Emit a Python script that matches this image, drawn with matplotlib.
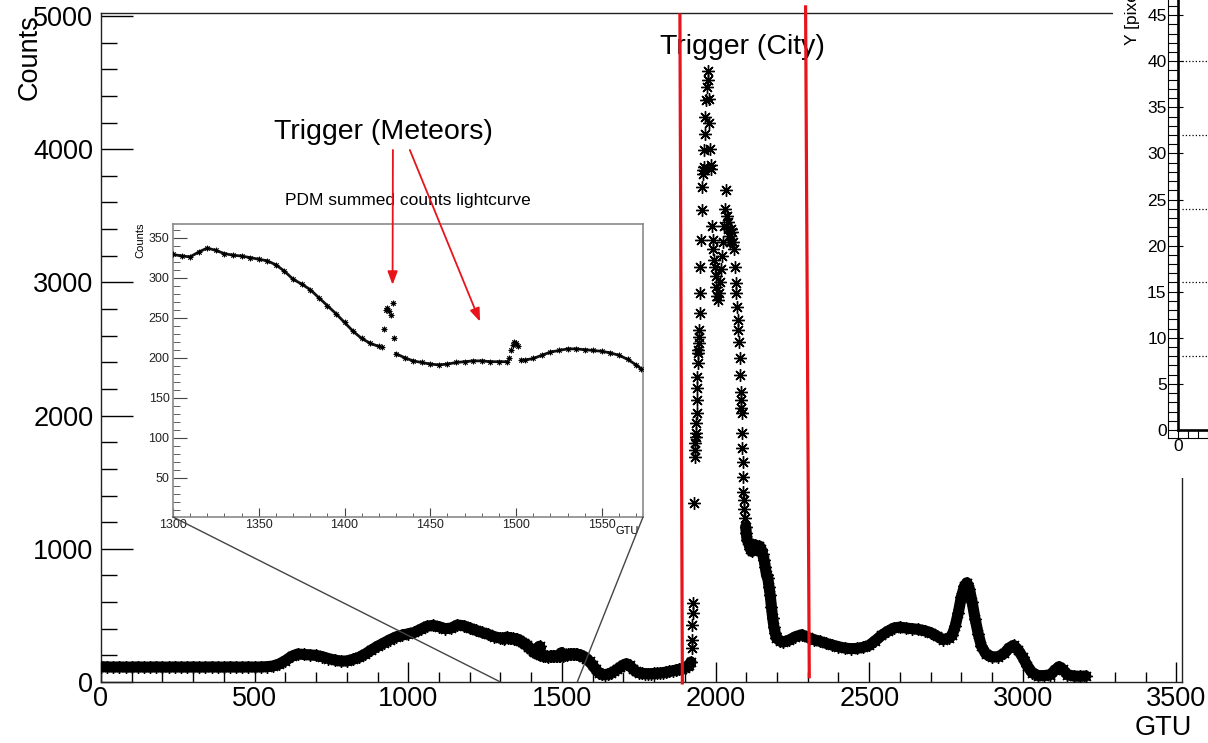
import numpy as np
import matplotlib
matplotlib.use("Agg")
import matplotlib.pyplot as plt
from matplotlib.patches import ConnectionPatch, Rectangle
from matplotlib.ticker import MultipleLocator, FixedLocator

plt.rcParams['font.family'] = ['Liberation Sans', 'DejaVu Sans']

# ---------------- data ----------------
# smooth part 0..1280 GTU, sampled every 20 GTU
seg_a_gtu = np.arange(0, 1281, 20)
seg_a_counts = [115, 113, 112, 113, 112, 112, 113, 112, 112, 113,
                112, 112, 113, 112, 112, 113, 112, 112, 113, 112,
                112, 113, 112, 112, 113, 112, 113, 115, 120, 135,
                160, 192, 210, 207, 203, 200, 190, 176, 165, 157,
                158, 170, 186, 210, 240, 268, 292, 317, 338, 352,
                362, 372, 395, 418, 425, 415, 400, 405, 428, 422,
                405, 388, 372, 358, 340]

# zoomed lightcurve (inset), 1300..1573 GTU
inset_gtu_1 = [1300, 1305, 1310, 1315, 1320, 1325, 1330, 1335, 1340, 1345,
               1350, 1355, 1360, 1365, 1370, 1375, 1380, 1385, 1390, 1395,
               1400, 1405, 1410, 1415, 1420, 1422]
inset_counts_1 = [329, 327, 326, 332, 337, 334, 330, 328, 327, 325,
                  323, 321, 316, 308, 298, 292, 285, 275, 265, 255,
                  244, 233, 224, 218, 214, 213]
meteor1_gtu = [1423, 1424, 1425, 1426, 1427, 1428, 1429]
meteor1_counts = [236, 260, 262, 258, 253, 268, 224]
inset_gtu_2 = [1430, 1435, 1440, 1445, 1450, 1455, 1460, 1465, 1470, 1475,
               1480, 1485, 1490, 1495]
inset_counts_2 = [205, 200, 196, 194, 192, 191, 192, 194, 195, 196,
                  196, 195, 195, 195]
meteor2_gtu = [1496, 1497, 1498, 1499, 1500, 1501]
meteor2_counts = [199, 209, 216, 220, 218, 215]
inset_gtu_3 = [1503, 1505, 1510, 1515, 1520, 1525, 1530, 1535, 1540, 1545,
               1550, 1555, 1560, 1565, 1570, 1573]
inset_counts_3 = [197, 197, 199, 203, 207, 209, 211, 211, 210, 209,
                  208, 206, 203, 198, 191, 186]

# 1580..1920 GTU
seg_b_gtu = [1580, 1590, 1600, 1610, 1620, 1630, 1640, 1650, 1660, 1670,
             1680, 1690, 1700, 1710, 1720, 1730, 1740, 1750, 1760, 1770,
             1780, 1790, 1800, 1810, 1820, 1830, 1840, 1850, 1860, 1870,
             1880, 1890, 1900, 1910, 1915, 1920]
seg_b_counts = [175, 155, 125, 95, 70, 58, 55, 60, 68, 80,
                95, 112, 128, 137, 125, 100, 80, 70, 65, 63,
                62, 62, 64, 66, 68, 71, 75, 79, 84, 89,
                94, 100, 107, 118, 128, 150]

# city: steep part (isolated points)
city_gtu = [1922, 1923, 1924, 1925, 1926, 1929, 1932, 1933, 1934, 1935,
            1936, 1937, 1938, 1939, 1940, 1941, 1942, 1943, 1944, 1945,
            1946, 1947, 1948, 1950, 1951, 1953, 1955, 1957, 1959, 1960,
            1961, 1963, 1965, 1967, 1969, 1971, 1974, 1976, 1978, 1980,
            1982, 1984, 1986, 1989, 1991, 1993, 1995, 1997, 2000, 2003,
            2006, 2009, 2012, 2015, 2018, 2021, 2024, 2027, 2030, 2033,
            2036, 2039, 2042, 2045, 2048, 2051, 2054, 2057, 2061, 2064,
            2066, 2068, 2070, 2072, 2074, 2076, 2078, 2080, 2082, 2083,
            2084, 2085, 2086, 2087, 2088, 2089, 2090, 2092, 2094, 2096]
city_counts = [253, 315, 428, 516, 591, 1342, 1692, 1742, 1792, 1842,
               1867, 1942, 2017, 2117, 2205, 2292, 2393, 2468, 2492, 2543,
               2593, 2643, 2768, 2918, 3118, 3318, 3544, 3718, 3815, 3840,
               3867, 3992, 4117, 4243, 4368, 4467, 4587, 4520, 4380, 4200,
               4000, 3880, 3850, 3420, 3318, 3250, 3170, 3118, 3050, 2968,
               2900, 2868, 2920, 3000, 3100, 3200, 3300, 3420, 3550, 3694,
               3500, 3450, 3400, 3350, 3300, 3400, 3380, 3300, 3250, 3118,
               2993, 2918, 2818, 2718, 2643, 2555, 2430, 2305, 2180, 2117,
               2060, 2017, 1867, 1755, 1654, 1541, 1429, 1366, 1300, 1230]

# plateau and tail 2098..3205 GTU
seg_c_gtu = [2098, 2100, 2103, 2108, 2113, 2118, 2123, 2128, 2133, 2138,
             2143, 2148, 2153, 2158, 2162, 2166, 2170, 2174, 2178, 2182,
             2186, 2190, 2194, 2198, 2210, 2220, 2240, 2260, 2280, 2300,
             2320, 2340, 2360, 2380, 2400, 2420, 2440, 2460, 2480, 2500,
             2520, 2540, 2560, 2580, 2600, 2620, 2640, 2660, 2680, 2700,
             2720, 2740, 2760, 2770, 2780, 2790, 2800, 2810, 2818, 2826,
             2835, 2845, 2855, 2865, 2880, 2900, 2920, 2940, 2955, 2970,
             2985, 3000, 3015, 3030, 3050, 3070, 3090, 3105, 3118, 3130,
             3145, 3165, 3185, 3205]
seg_c_counts = [1166, 1116, 1066, 1040, 1000, 980, 1010, 1030, 1000, 990,
                1020, 1000, 960, 916, 860, 800, 780, 716, 650, 560,
                480, 413, 370, 330, 310, 300, 315, 340, 355, 335,
                318, 305, 290, 277, 265, 255, 250, 252, 260, 275,
                310, 350, 380, 405, 412, 405, 400, 395, 385, 370,
                345, 318, 330, 350, 420, 520, 640, 720, 745, 700,
                600, 470, 360, 270, 210, 188, 190, 215, 255, 275,
                240, 185, 120, 70, 48, 48, 55, 90, 115, 95,
                55, 45, 43, 45]

# annotation positions (data units)
zoom_range = [1300, 1550]
city_line_x_top = [1884, 2293]
city_line_x_bot = [1892, 2305]
city_line_y_top = [5007, 5068]
city_line_y_bot = [-7, 40]
pix_grid_rows = [8, 16, 24, 32, 40]

# ---------------- figure ----------------
W, H = 1208, 743
fig = plt.figure(figsize=(W / 100, H / 100), dpi=100)
fig.patch.set_facecolor('white')


def fx(px):
    return px / W


def fy(py):
    return 1 - py / H


PT = 0.72  # points per pixel
star = (8, 2, 0)

ax = fig.add_axes([fx(101), fy(682), (1182 - 101) / W, (682 - 13) / H])
ax.set_xlim(0, 3518)
ax.set_ylim(0, 5022)

line1_g = np.concatenate([seg_a_gtu, inset_gtu_1, meteor1_gtu, inset_gtu_2,
                          meteor2_gtu, inset_gtu_3, seg_b_gtu])
line1_c = np.concatenate([seg_a_counts, inset_counts_1, meteor1_counts,
                          inset_counts_2, meteor2_counts, inset_counts_3,
                          seg_b_counts])
MS, MEW = 9, 1.0
ax.plot(line1_g, line1_c, '-', color='black', lw=8, solid_capstyle='round',
        solid_joinstyle='round', zorder=2)
ax.plot(line1_g, line1_c, ls='none', marker=star, ms=MS, mew=MEW,
        color='black', zorder=3)
ax.plot(seg_c_gtu, seg_c_counts, '-', color='black', lw=8,
        solid_capstyle='round', solid_joinstyle='round', zorder=2)
ax.plot(seg_c_gtu, seg_c_counts, ls='none', marker=star, ms=MS, mew=MEW,
        color='black', zorder=3)
ax.plot(city_gtu, city_counts, ls='none', marker=star, ms=MS, mew=MEW,
        color='black', zorder=3)

ax.xaxis.set_major_locator(MultipleLocator(500))
ax.xaxis.set_minor_locator(MultipleLocator(100))
ax.yaxis.set_major_locator(MultipleLocator(1000))
ax.yaxis.set_minor_locator(MultipleLocator(200))
ax.tick_params(axis='both', which='both', direction='in', top=False,
               right=False, color='black')
ax.tick_params(axis='y', which='major', length=32 * PT, width=1,
               labelsize=19.5, pad=5.5)
ax.tick_params(axis='y', which='minor', length=16 * PT, width=1)
ax.tick_params(axis='x', which='major', length=20 * PT, width=1,
               labelsize=19.5, pad=3)
ax.tick_params(axis='x', which='minor', length=10 * PT, width=1)
for s in ax.spines.values():
    s.set_linewidth(1.0)
    s.set_color('#222222')

fig.text(fx(30), fy(14), 'Counts', rotation=90, ha='center', va='top',
         fontsize=19.5)
fig.text(fx(1192), fy(728), 'GTU', ha='right', va='center', fontsize=19.5)

# red trigger lines (city)
for xt, xb, yt, yb in zip(city_line_x_top, city_line_x_bot,
                          city_line_y_top, city_line_y_bot):
    ax.plot([xt, xb], [yt, yb], color='#e8141c', lw=2.3, clip_on=False,
            zorder=6)

ax.text(2086, 4767, 'Trigger (City)', ha='center', va='center',
        fontsize=20.5, zorder=5)
ax.text(918, 4129, 'Trigger (Meteors)', ha='center', va='center',
        fontsize=20.5, zorder=5)

# ---------------- inset ----------------
axin = fig.add_axes([fx(173), fy(517), (643 - 173) / W, (517 - 224) / H])
axin.set_xlim(1300, 1574)
axin.set_ylim(1, 367)
for gg, cc in [(inset_gtu_1, inset_counts_1), (inset_gtu_2, inset_counts_2),
               (inset_gtu_3, inset_counts_3)]:
    axin.plot(gg, cc, '-', color='#111111', lw=2.0, zorder=2)
    axin.plot(gg, cc, ls='none', marker=star, ms=4, mew=0.6,
              color='black', zorder=3)
for gg, cc in [(meteor1_gtu, meteor1_counts), (meteor2_gtu, meteor2_counts)]:
    axin.plot(gg, cc, ls='none', marker=star, ms=4, mew=0.7,
              color='black', zorder=3)

axin.xaxis.set_major_locator(MultipleLocator(50))
axin.xaxis.set_minor_locator(MultipleLocator(10))
axin.yaxis.set_major_locator(FixedLocator([50, 100, 150, 200, 250, 300, 350]))
axin.yaxis.set_minor_locator(MultipleLocator(10))
axin.tick_params(axis='both', which='both', direction='in', top=False,
                 right=False, color='#444444', labelcolor='#222222')
axin.tick_params(axis='y', which='major', length=14 * PT, width=0.8,
                 labelsize=9, pad=2.5)
axin.tick_params(axis='y', which='minor', length=7 * PT, width=0.6)
axin.tick_params(axis='x', which='major', length=9 * PT, width=0.8,
                 labelsize=9, pad=1.5)
axin.tick_params(axis='x', which='minor', length=4.5 * PT, width=0.6)
for s in axin.spines.values():
    s.set_linewidth(1.2)
    s.set_color('#8a8a8a')

fig.text(fx(408), fy(200), 'PDM summed counts lightcurve', ha='center',
         va='center', fontsize=12.5)
fig.text(fx(140), fy(223), 'Counts', rotation=90, ha='center', va='top',
         fontsize=8)
fig.text(fx(627), fy(531), 'GTU', ha='center', va='center', fontsize=8)

# zoom connection lines
for frac, gx in zip([0, 1], zoom_range):
    con = ConnectionPatch(xyA=(frac, 0), coordsA=axin.transAxes,
                          xyB=(gx, 0), coordsB=ax.transData,
                          color='#444444', lw=1.0, zorder=4)
    fig.add_artist(con)

# meteor trigger arrows
arrow_tails = [(950, 3994), (1005, 3994)]
arrow_tips = [(1428, 291), (1479, 245)]
for tail, tip in zip(arrow_tails, arrow_tips):
    arr = ConnectionPatch(xyA=tail, coordsA=ax.transData, xyB=tip,
                          coordsB=axin.transData, color='#e8141c', lw=1.3,
                          arrowstyle='-|>,head_length=0.8,head_width=0.3',
                          mutation_scale=10, zorder=6)
    fig.add_artist(arr)

# ---------------- clipped neighbouring panel (right edge) ----------------
fig.add_artist(Rectangle((fx(1113), fy(478)), (1208 - 1113) / W, 478 / H,
                         transform=fig.transFigure, facecolor='white',
                         edgecolor='none', zorder=5))
ov = fig.add_axes([fx(1178), fy(430), (1208 - 1178) / W, 430 / H], zorder=6)
ov.set_facecolor('white')
ov.set_xlim(0, 3.0)
ov.set_ylim(0, 430 / 9.22)
ov.spines['top'].set_visible(False)
ov.spines['right'].set_visible(False)
ov.spines['left'].set_linewidth(1.9)
ov.spines['bottom'].set_linewidth(1.9)
ov.yaxis.set_major_locator(MultipleLocator(5))
ov.yaxis.set_minor_locator(MultipleLocator(1))
ov.xaxis.set_major_locator(FixedLocator([0]))
ov.xaxis.set_minor_locator(MultipleLocator(1))
ov.tick_params(axis='both', which='both', direction='out', width=0.8,
               top=False, right=False)
ov.tick_params(axis='y', which='both', length=10 * PT, labelsize=12.5, pad=1)
ov.tick_params(axis='x', which='both', length=8 * PT, labelsize=12.5, pad=1)
ov.plot([-1.0, -1.0], [-0.87, 50], color='black', lw=0.8, clip_on=False)
ov.plot([-1.0, 3.5], [-0.87, -0.87], color='black', lw=0.8, clip_on=False)
ov.hlines(np.arange(0, 46, 5), 0, 0.5, color='black', lw=0.8)
ov.hlines(pix_grid_rows, 0.4, 3.0, color='black', lw=0.9, linestyles=':')
fig.text(fx(1132), fy(45), 'Y [pixel]', rotation=90, ha='center',
         va='bottom', fontsize=12.5, zorder=7)

fig.savefig('out.png', dpi=100)
